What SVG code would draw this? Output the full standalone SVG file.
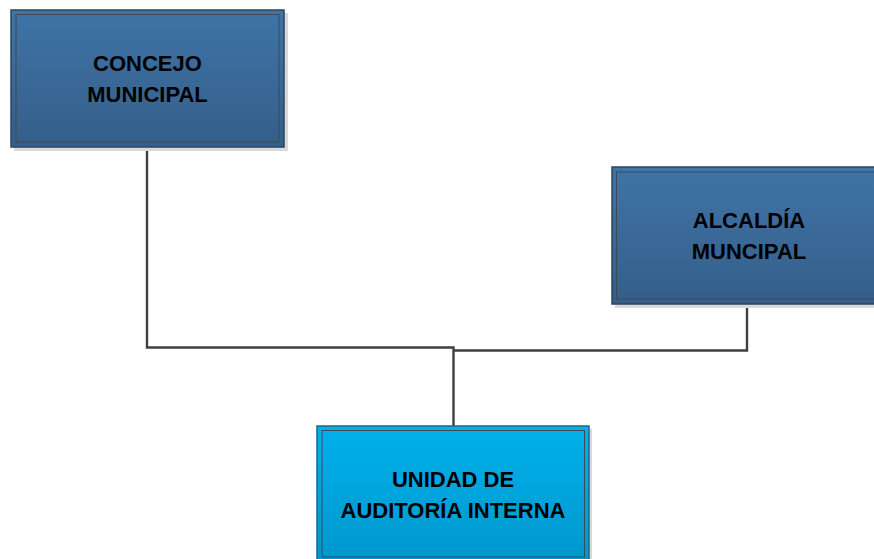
<svg xmlns="http://www.w3.org/2000/svg" width="874" height="559" viewBox="0 0 874 559">
  <defs>
    <linearGradient id="gDark" x1="0" y1="0" x2="0" y2="1">
      <stop offset="0" stop-color="#3f74a7"/>
      <stop offset="1" stop-color="#355e89"/>
    </linearGradient>
    <linearGradient id="gCyan" x1="0" y1="0" x2="0" y2="1">
      <stop offset="0" stop-color="#00b1ec"/>
      <stop offset="1" stop-color="#0096cb"/>
    </linearGradient>
    <style>
      .shadow { fill: #d9d9d9; }
      .outerD { fill: url(#gDark); stroke: #2b4662; stroke-width: 1.5; }
      .outerC { fill: url(#gCyan); stroke: #1d6788; stroke-width: 1.5; }
      .inner { fill: none; stroke: #3d4a55; stroke-width: 1; }
      .lbl { font-family: "Liberation Sans", Arial, sans-serif; font-weight: bold; font-size: 22px; fill: #000; text-anchor: middle; }
      .conn { fill: none; stroke: #404040; stroke-width: 2.4; }
    </style>
  </defs>
  <rect width="874" height="559" fill="#ffffff"/>
  <g id="connectors">
    <polyline class="conn" points="147,147 147,347.5 453.5,347.5 453.5,426"/>
    <polyline class="conn" points="747,304 747,350.5 453.5,350.5"/>
  </g>
  <g id="concejo">
    <rect class="shadow" x="14" y="13" width="274" height="138"/>
    <rect class="outerD" x="11" y="10" width="273" height="137"/>
    <rect class="inner" x="16" y="14.5" width="263" height="127.5"/>
    <text class="lbl" x="147.5" y="71">CONCEJO</text>
    <text class="lbl" x="147.5" y="102">MUNICIPAL</text>
  </g>
  <g id="alcaldia">
    <rect class="shadow" x="615" y="170" width="262" height="138"/>
    <rect class="outerD" x="612" y="167" width="264" height="137"/>
    <rect class="inner" x="616.5" y="172" width="262" height="127"/>
    <text class="lbl" x="749" y="228">ALCALDÍA</text>
    <text class="lbl" x="749" y="259">MUNCIPAL</text>
  </g>
  <g id="unidad">
    <rect class="shadow" x="320" y="429" width="272" height="140"/>
    <rect class="outerC" x="317" y="426" width="272" height="140"/>
    <rect class="inner" x="322" y="430.5" width="262.5" height="126.5"/>
    <text class="lbl" x="453" y="487">UNIDAD DE</text>
    <text class="lbl" x="453" y="518">AUDITORÍA INTERNA</text>
  </g>
</svg>
